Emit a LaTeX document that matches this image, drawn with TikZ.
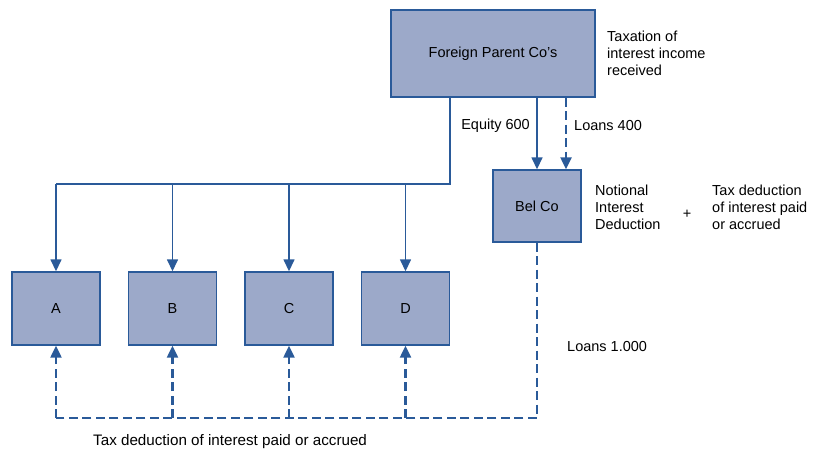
\documentclass[tikz,border=0pt]{standalone}
\usepackage{fontspec}
\setmainfont{Liberation Sans}
\usetikzlibrary{arrows.meta, positioning, calc}
\definecolor{BoxFill}{RGB}{156,169,201}
\definecolor{LineBlue}{RGB}{42,90,153}
\tikzset{
  company/.style={draw=LineBlue, line width=1.4pt, fill=BoxFill, inner sep=0pt},
  link/.style={LineBlue, line width=1.5pt},
  loan/.style={LineBlue, line width=2.3pt, dash pattern=on 9pt off 4.5pt},
  tip/.style={-{Triangle[length=12pt, width=11pt]}},
  note/.style={align=left, inner sep=0pt, font=\fontsize{14.5}{17}\selectfont}
}

\begin{document}
\begin{tikzpicture}[x=1pt, y=-1pt, font=\fontsize{14.5}{17}\selectfont]
\useasboundingbox (0,0) rectangle (821,452);

% ===== companies =====
\node[company, minimum width=204pt, minimum height=87pt] (parent) at (493,53.5) {Foreign Parent Co's};
\node[company, minimum width=88pt, minimum height=72pt] (belco) at (537,206) {Bel Co};
\foreach \name/\xx in {A/56, B/172.5, C/289, D/405.5}
  \node[company, minimum width=88pt, minimum height=73pt] (\name) at (\xx,308.5) {\name};

% ===== equity to subsidiaries =====
\coordinate (split) at (450,184);
\draw[link] (parent.south -| split) -- (split) -- (split -| A);
\foreach \name in {A,B,C,D}
  \draw[link, tip] (split -| \name) -- (\name.north);

% ===== parent to Bel Co =====
\coordinate (loanin) at (566,0);
\draw[link, tip] (parent.south -| belco) -- (belco.north);
\draw[loan, tip] (parent.south -| loanin) -- (belco.north -| loanin);

% ===== Bel Co loans back =====
\coordinate (corner) at (537,418);
\draw[loan] (belco.south) -- (corner) -- (corner -| A);
\foreach \name in {A,B,C,D}
  \draw[loan, tip] (corner -| \name) -- (\name.south);

% ===== labels =====
\node[note, anchor=east] (equity) at (530,126) {Equity 600};
\node[note, anchor=west] (loans) at (574,126) {Loans 400};
\node[note, anchor=west] (taxation) at (607,53) {Taxation of\\interest income\\received};
\node[note, anchor=west] (nid) at (595,207) {Notional\\Interest\\Deduction};
\node[note] (plus) at (687,214) {+};
\node[note, anchor=west] (taxded) at (712,207) {Tax deduction\\of interest paid\\or accrued};
\node[note, anchor=west] (loansbig) at (567,347) {Loans 1.000};
\node[note, anchor=west, font=\fontsize{15.2}{18}\selectfont] (bottom) at (93,442) {Tax deduction of interest paid or accrued};

\end{tikzpicture}
\end{document}
